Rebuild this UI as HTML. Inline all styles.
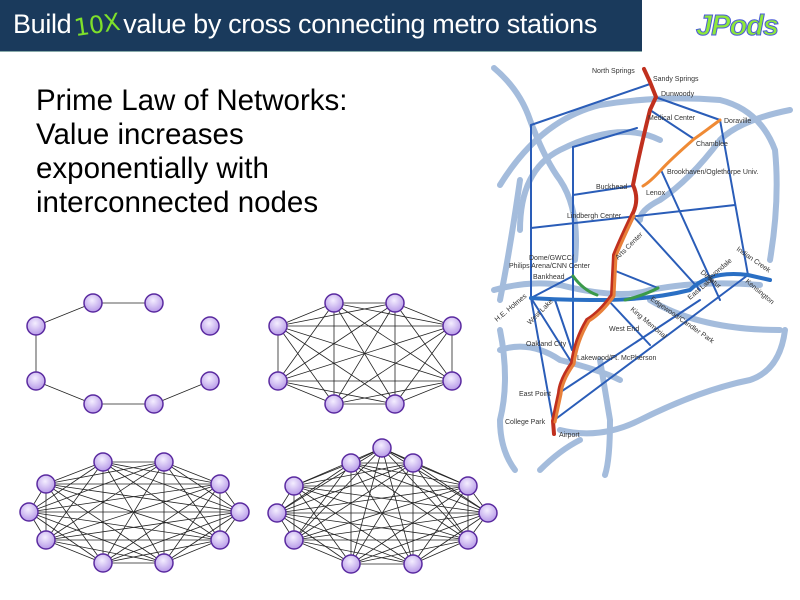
<!DOCTYPE html>
<html><head><meta charset="utf-8"><style>
body{margin:0;width:800px;height:600px;background:#fff;overflow:hidden;position:relative;font-family:"Liberation Sans",sans-serif}
#bar{position:absolute;left:0;top:0;width:642px;height:51px;background:#1a3a5c;border-bottom:1px solid #8aa}
#title{position:absolute;left:13px;top:9px;font-size:27px;color:#fff;white-space:nowrap;letter-spacing:-0.35px}
#ten{color:#7ee02a;font-family:"DejaVu Sans",sans-serif;font-size:24px;display:inline-block;transform:rotate(-8deg);margin:0 3px}
#logo{position:absolute;left:696px;top:10px;font-size:29px;font-weight:bold;font-style:italic;color:#8ee83a;-webkit-text-stroke:1px #4a5ad8;letter-spacing:-1px}
#law{position:absolute;left:36px;top:84px;font-size:29.5px;line-height:34px;color:#000}
svg{position:absolute;left:0;top:0}
</style></head><body>
<div id="bar"></div>
<div id="title">Build<span id="ten">10X</span>value by cross connecting metro stations</div>
<div id="logo">JPods</div>
<div id="law">Prime Law of Networks:<br>Value increases<br>exponentially with<br>interconnected nodes</div>
<svg width="800" height="600" id="s">
<defs><radialGradient id="g" cx="45%" cy="35%" r="65%"><stop offset="0" stop-color="#f4eeff"/><stop offset="1" stop-color="#b79ae8"/></radialGradient></defs>
<g id="map" fill="none" stroke-linecap="round" stroke-linejoin="round">
<g stroke="#a4bcdc" stroke-width="6">
<path d="M494 68 Q520 90 530 120 Q545 160 560 180 Q580 210 575 260"/>
<path d="M500 185 Q540 120 600 105 Q660 95 720 100 Q760 110 775 150 Q780 200 770 260"/>
<path d="M520 230 Q520 170 560 150 Q620 120 660 140"/>
<path d="M790 110 Q740 120 720 140 Q690 180 660 200 Q640 210 640 220"/>
<path d="M494 290 Q530 280 560 285 Q620 300 650 290 Q700 280 760 285"/>
<path d="M500 350 Q530 340 560 360 Q600 370 620 380"/>
<path d="M650 300 Q700 330 780 330"/>
<path d="M500 330 Q510 380 500 420 Q500 450 515 470"/>
<path d="M560 430 Q600 440 640 420 Q700 390 750 380 Q780 370 785 330"/>
<path d="M520 180 Q510 250 500 300"/>
<path d="M600 360 L610 420 Q610 460 605 475"/>
<path d="M540 470 Q560 450 580 440"/>
</g>
<g stroke="#2a5db8" stroke-width="2">
<path d="M531 125 L650 84"/><path d="M531 125 L531 298"/>
<path d="M573 147 L637 128"/><path d="M573 147 L573 360"/>
<path d="M573 195 L632 186"/><path d="M531 228 L735 205"/>
<path d="M658 98 L720 120 L748 275"/><path d="M650 110 L694 139"/>
<path d="M661 170 L720 300"/><path d="M632 215 L700 290"/>
<path d="M613 270 L658 288"/><path d="M531 298 L573 276"/>
<path d="M531 298 L553 421"/><path d="M531 298 L572 363"/>
<path d="M555 300 L572 350"/><path d="M553 421 L748 275"/><path d="M559 393 L700 300"/>
<path d="M608 300 L650 345"/>
</g>
<path d="M531 298 Q560 300 600 300 Q650 300 690 290 Q710 270 748 275 L770 280" stroke="#2a6fc4" stroke-width="4"/>
<path d="M573 276 Q583 290 597 295 M625 300 Q645 295 658 288" stroke="#3a9a4a" stroke-width="3"/>
<path d="M644 69 L650 82 L656 97 L650 110 Q640 150 633 185 Q640 200 632 215 Q620 240 614 255 L612 295 Q600 312 587 320 Q575 340 572 363 Q560 380 559 393 L553 421 L554 434" stroke="#c0301e" stroke-width="4"/>
<path d="M632 215 Q620 240 614 255 L612 295 Q600 312 587 320 Q575 340 572 363 Q560 380 559 393 L553 421" stroke="#e8803a" stroke-width="3" transform="translate(2,1)"/>
<path d="M720 120 Q700 135 694 139 Q670 160 661 170 Q650 182 643 186" stroke="#ef8a35" stroke-width="3"/>
</g>
<g font-size="7" fill="#333">
<text x="592" y="73">North Springs</text><text x="653" y="81">Sandy Springs</text><text x="661" y="96">Dunwoody</text>
<text x="648" y="120">Medical Center</text><text x="724" y="123">Doraville</text><text x="696" y="146">Chamblee</text>
<text x="667" y="174">Brookhaven/Oglethorpe Univ.</text><text x="596" y="189">Buckhead</text><text x="646" y="195">Lenox</text>
<text x="567" y="218">Lindbergh Center</text><text x="529" y="260">Dome/GWCC/</text><text x="509" y="268">Philips Arena/CNN Center</text>
<text x="533" y="279">Bankhead</text><text x="609" y="331">West End</text><text x="526" y="346">Oakland City</text>
<text x="577" y="360">Lakewood/Ft. McPherson</text><text x="519" y="396">East Point</text><text x="505" y="424">College Park</text>
<text x="559" y="437">Airport</text>
<text transform="translate(497,322) rotate(-40)">H.E. Holmes</text><text transform="translate(530,325) rotate(-45)">West Lake</text>
<text transform="translate(618,260) rotate(-45)">Arts Center</text><text transform="translate(690,300) rotate(-40)">East Lake</text>
<text transform="translate(736,250) rotate(35)">Indian Creek</text><text transform="translate(745,282) rotate(40)">Kensington</text>
<text transform="translate(710,280) rotate(-40)">Avondale</text><text transform="translate(700,273) rotate(40)">Decatur</text>
<text transform="translate(630,310) rotate(40)">King Memorial</text><text transform="translate(650,300) rotate(35)">Edgewood/Candler Park</text>
</g>
<g id="gr" stroke="#222" stroke-width="0.8"></g>
<g id="nd" fill="url(#g)" stroke="#5a2aa0" stroke-width="1.5"></g>
</svg>
<script>
var ns="http://www.w3.org/2000/svg",gr=document.getElementById('gr'),nd=document.getElementById('nd');
function L(a,b){var l=document.createElementNS(ns,'line');l.setAttribute('x1',a[0]);l.setAttribute('y1',a[1]);l.setAttribute('x2',b[0]);l.setAttribute('y2',b[1]);gr.appendChild(l);}
function N(p){var c=document.createElementNS(ns,'circle');c.setAttribute('cx',p[0]);c.setAttribute('cy',p[1]);c.setAttribute('r',9);nd.appendChild(c);}
function K(P){for(var i=0;i<P.length;i++)for(var j=i+1;j<P.length;j++)L(P[i],P[j]);P.forEach(N);}
var g1=[[36,326],[93,303],[154,303],[210,326],[210,381],[154,404],[93,404],[36,381]];
L(g1[0],g1[1]);L(g1[1],g1[2]);L(g1[0],g1[7]);L(g1[7],g1[6]);L(g1[6],g1[5]);L(g1[5],g1[4]);g1.forEach(N);
K([[278,326],[334,303],[395,303],[452,326],[452,381],[395,404],[334,404],[278,381]]);
K([[29,512],[46,484],[103,462],[164,462],[220,484],[240,512],[220,540],[164,563],[103,563],[46,540]]);
K([[277,513],[294,486],[351,463],[382,448],[413,463],[468,486],[488,513],[468,540],[413,564],[351,564],[294,540]]);
</script>
</body></html>
